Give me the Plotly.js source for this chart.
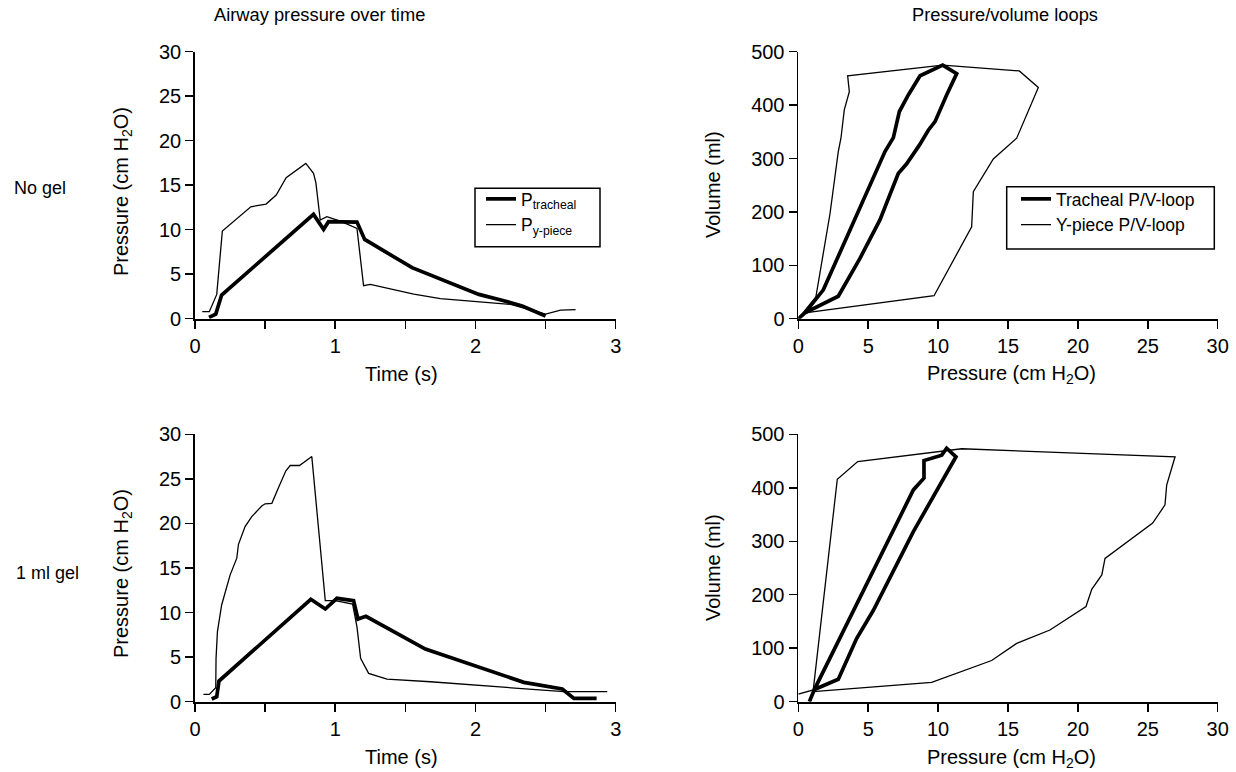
<!DOCTYPE html>
<html>
<head>
<meta charset="utf-8">
<script src="https://cdn.plot.ly/plotly-3.0.1.min.js"></script>
<style>html,body{margin:0;padding:0;background:#fff;}#chart{width:1236px;height:772px;}</style>
</head>
<body>
<div id="chart"></div>
<script>
// ---------- Data ----------
// Airway pressure over time, no gel
const noGelTrachealTime = [0.10, 0.148, 0.19, 0.845, 0.917, 0.952, 1.155, 1.21, 1.548, 2.024, 2.202, 2.333, 2.50];
const noGelTrachealPressure = [0.15, 0.52, 2.66, 11.72, 10.04, 10.9, 10.86, 8.91, 5.73, 2.73, 2.02, 1.42, 0.3];
const noGelYpieceTime = [0.052, 0.102, 0.155, 0.195, 0.398, 0.507, 0.579, 0.65, 0.79, 0.845, 0.862, 0.893, 0.94, 1.036, 1.155, 1.202, 1.25, 1.56, 1.75, 2.25, 2.50, 2.607, 2.714];
const noGelYpiecePressure = [0.79, 0.79, 2.73, 9.85, 12.58, 12.88, 13.9, 15.84, 17.45, 16.33, 15.28, 11.09, 11.46, 10.97, 10.15, 3.71, 3.86, 2.77, 2.25, 1.61, 0.52, 0.97, 1.01];

// Airway pressure over time, 1 ml gel
const gelTrachealTime = [0.119, 0.155, 0.171, 0.826, 0.929, 1.012, 1.131, 1.162, 1.219, 1.643, 2.345, 2.619, 2.702, 2.864];
const gelTrachealPressure = [0.3, 0.56, 2.32, 11.49, 10.4, 11.6, 11.34, 9.28, 9.58, 5.91, 2.17, 1.42, 0.37, 0.37];
const gelYpieceTime = [0.06, 0.102, 0.148, 0.15, 0.16, 0.19, 0.25, 0.298, 0.31, 0.357, 0.405, 0.476, 0.50, 0.548, 0.595, 0.648, 0.679, 0.745, 0.833, 0.929, 1.0, 1.124, 1.155, 1.181, 1.238, 1.369, 1.679, 2.63, 2.94];
const gelYpiecePressure = [0.82, 0.82, 1.57, 4.86, 7.86, 10.85, 14.2, 16.1, 17.66, 19.64, 20.76, 21.96, 22.2, 22.26, 24.0, 25.9, 26.5, 26.5, 27.5, 11.34, 11.34, 10.96, 8.4, 4.86, 3.18, 2.54, 2.24, 1.12, 1.12];

// Pressure/volume loops, no gel
const noGelTrachealLoopP = [0, 0.48, 1.79, 2.74, 4.41, 5.84, 6.2, 6.8, 7.23, 7.87, 8.71, 10.33, 11.33, 10.61, 10.21, 9.78, 9.3, 8.66, 7.75, 7.15, 5.84, 4.41, 2.86, 0.48, 0];
const noGelTrachealLoopV = [0, 11, 54, 110, 210, 294, 313, 339, 388, 419, 455, 475, 459, 419, 394, 369, 353, 325, 290, 272, 185, 113, 42, 11, 0];
const noGelYpieceLoopP = [0, 1.26, 2.27, 2.86, 3.05, 3.29, 3.65, 3.53, 10.33, 15.81, 17.17, 15.62, 13.95, 12.52, 12.4, 11.09, 9.71, 0.48, 0];
const noGelYpieceLoopV = [0, 41, 197, 313, 338, 391, 425, 455, 475, 464, 433, 338, 299, 238, 172, 110, 43, 11, 0];

// Pressure/volume loops, 1 ml gel
const gelTrachealLoopP = [0.79, 1.19, 8.23, 8.99, 8.99, 10.26, 10.61, 11.28, 8.23, 5.37, 4.17, 2.86, 1.07];
const gelTrachealLoopV = [0, 25, 396, 418, 451, 461, 474, 458, 318, 171, 118, 42, 22];
const gelYpieceLoopP = [0, 1.07, 2.79, 4.25, 11.69, 26.95, 26.35, 26.23, 25.35, 21.94, 21.71, 20.99, 20.58, 18.0, 15.62, 13.83, 9.54, 1.07];
const gelYpieceLoopV = [14, 22, 416, 449, 473, 458, 405, 368, 334, 268, 237, 210, 178, 134, 109, 77, 36, 19];

// Labels
const legendNamesTime = ['P<sub>tracheal</sub>', 'P<sub>y-piece</sub>'];
const legendNamesLoop = ['Tracheal P/V-loop', 'Y-piece P/V-loop'];
const columnTitles = ['Airway pressure over time', 'Pressure/volume loops'];
const rowLabels = ['No gel', '1 ml gel'];
const timeTicks = [0, 1, 2, 3];
const pressureTicks = [0, 5, 10, 15, 20, 25, 30];
const volumeTicks = [0, 100, 200, 300, 400, 500];

// ---------- Layout helpers ----------
const W = 1236, H = 772;
const FONT = '"Liberation Sans", Arial, Helvetica, sans-serif';
const px = v => v / W;
const py = v => 1 - v / H;

const THICK = 3.7, THIN = 1.3;

function lineTrace(x, y, w, name, xa, ya, legend, show) {
  return {
    x: x, y: y, type: 'scatter', mode: 'lines', name: name,
    line: {color: '#000', width: w, shape: 'linear'},
    xaxis: xa, yaxis: ya, legend: legend, showlegend: show,
    hoverinfo: 'skip'
  };
}

const traces = [
  lineTrace(noGelTrachealTime, noGelTrachealPressure, THICK, legendNamesTime[0], 'x', 'y', 'legend', true),
  lineTrace(noGelYpieceTime, noGelYpiecePressure, THIN, legendNamesTime[1], 'x', 'y', 'legend', true),
  lineTrace(noGelTrachealLoopP, noGelTrachealLoopV, THICK, legendNamesLoop[0], 'x2', 'y2', 'legend2', true),
  lineTrace(noGelYpieceLoopP, noGelYpieceLoopV, THIN, legendNamesLoop[1], 'x2', 'y2', 'legend2', true),
  lineTrace(gelYpieceTime, gelYpiecePressure, THIN, legendNamesTime[1], 'x3', 'y3', 'legend', false),
  lineTrace(gelTrachealTime, gelTrachealPressure, THICK, legendNamesTime[0], 'x3', 'y3', 'legend', false),
  lineTrace(gelYpieceLoopP, gelYpieceLoopV, THIN, legendNamesLoop[1], 'x4', 'y4', 'legend2', false),
  lineTrace(gelTrachealLoopP, gelTrachealLoopV, THICK, legendNamesLoop[0], 'x4', 'y4', 'legend2', false)
];

function axis(domain, range, tickvals, anchor, extra) {
  return Object.assign({
    domain: domain, range: range, anchor: anchor,
    tickmode: 'array', tickvals: tickvals, ticktext: tickvals.map(String),
    showline: true, linecolor: '#000', linewidth: 1.8,
    ticks: 'outside', ticklen: 8, tickwidth: 1.5, tickcolor: '#000',
    showgrid: false, zeroline: false, fixedrange: true,
    tickfont: {family: FONT, size: 20, color: '#000'}
  }, extra || {});
}

const xLeft = [px(195), px(615.7)];
const xRight = [px(798.3), px(1217.7)];
const yTop = [py(318.7), py(51.7)];
const yBot = [py(701.7), py(434.3)];

const minorHalf = {minor: {tickmode: 'array', tickvals: [0.5, 1.5, 2.5], ticks: 'outside', ticklen: 8, tickwidth: 1.5, tickcolor: '#000', showgrid: false}};

function note(text, x, y, size, opts) {
  return Object.assign({
    text: text, x: px(x), y: py(y), xref: 'paper', yref: 'paper', showarrow: false,
    xanchor: 'center', yanchor: 'middle',
    font: {family: FONT, size: size, color: '#000'}
  }, opts || {});
}

function legendBox(x0, y0, x1, y1) {
  return {
    type: 'rect', xref: 'paper', yref: 'paper',
    x0: px(x0), x1: px(x1), y0: py(y1), y1: py(y0),
    line: {color: '#000', width: 1.5}, fillcolor: '#fff', layer: 'above'
  };
}

const legendCommon = {
  xanchor: 'left', yanchor: 'top', borderwidth: 0, bgcolor: 'rgba(0,0,0,0)',
  font: {family: FONT, size: 17.5, color: '#000'}, tracegroupgap: 0, itemwidth: 30
};

const layout = {
  width: W, height: H,
  margin: {l: 0, r: 0, t: 0, b: 0},
  paper_bgcolor: '#fff', plot_bgcolor: '#fff',
  font: {family: FONT, size: 18, color: '#000'},
  xaxis: axis(xLeft, [0, 3], timeTicks, 'y', minorHalf),
  yaxis: axis(yTop, [0, 30], pressureTicks, 'x'),
  xaxis2: axis(xRight, [0, 30], pressureTicks, 'y2'),
  yaxis2: axis(yTop, [0, 500], volumeTicks, 'x2'),
  xaxis3: axis(xLeft, [0, 3], timeTicks, 'y3', minorHalf),
  yaxis3: axis(yBot, [0, 30], pressureTicks, 'x3'),
  xaxis4: axis(xRight, [0, 30], pressureTicks, 'y4'),
  yaxis4: axis(yBot, [0, 500], volumeTicks, 'x4'),
  legend: Object.assign({x: px(481), y: py(181)}, legendCommon),
  legend2: Object.assign({x: px(1016), y: py(181)}, legendCommon),
  shapes: [
    legendBox(475, 188.3, 600, 246.7),
    legendBox(1006.7, 186.7, 1214.3, 249)
  ],
  annotations: [
    note(columnTitles[0], 319, 15, 18.3),
    note(columnTitles[1], 1005, 15, 18.3),
    note(rowLabels[0], 12, 188, 18, {xanchor: 'left'}),
    note(rowLabels[1], 14, 573, 18, {xanchor: 'left'}),
    note('Pressure (cm H<sub>2</sub>O)', 122, 191, 20, {textangle: -90}),
    note('Pressure (cm H<sub>2</sub>O)', 122, 573, 20, {textangle: -90}),
    note('Volume (ml)', 713, 185, 20, {textangle: -90}),
    note('Volume (ml)', 713, 568, 20, {textangle: -90}),
    note('Time (s)', 401, 374, 20),
    note('Time (s)', 401, 757, 20),
    note('Pressure (cm H<sub>2</sub>O)', 1011, 375, 20),
    note('Pressure (cm H<sub>2</sub>O)', 1011, 758, 20)
  ]
};

Plotly.newPlot('chart', traces, layout, {staticPlot: true, displayModeBar: false});
</script>
</body>
</html>
